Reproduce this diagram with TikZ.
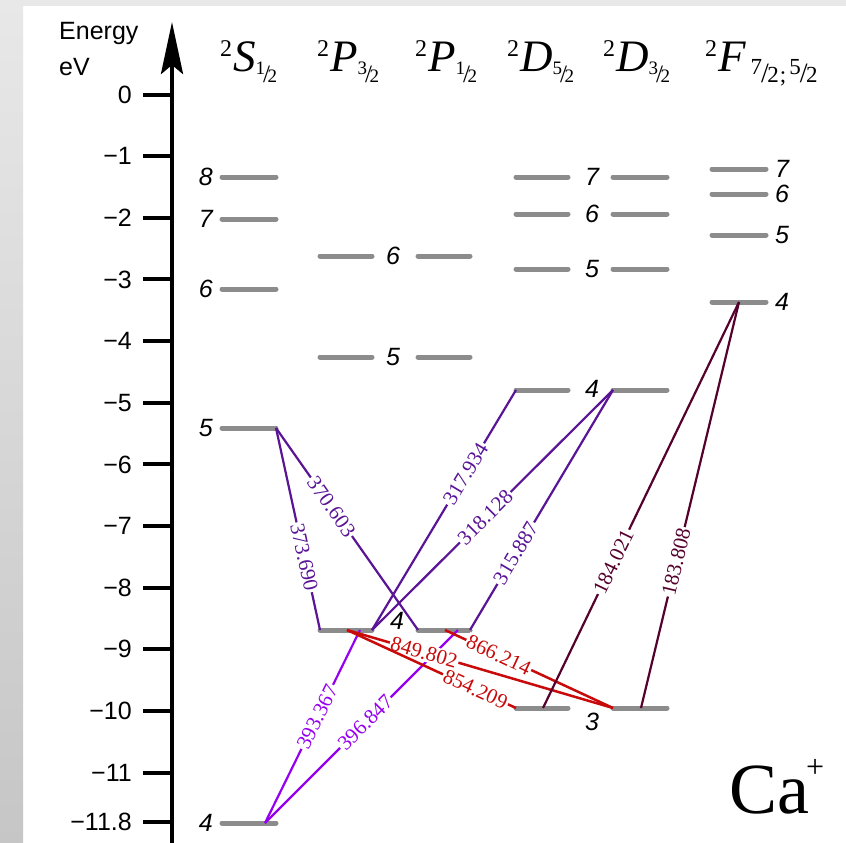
\documentclass[tikz,border=0pt]{standalone}
\usepackage{fontspec}
\setmainfont{Liberation Serif}
\setsansfont{Liberation Sans}
\usetikzlibrary{arrows.meta}
\definecolor{lvlgray}{RGB}{140,140,140}
\definecolor{vio}{RGB}{90,20,150}
\definecolor{bvio}{RGB}{150,0,240}
\definecolor{tred}{RGB}{200,10,10}
\definecolor{maroonc}{RGB}{85,0,45}
\definecolor{frtop}{RGB}{232,232,232}
\definecolor{frbot}{RGB}{198,198,198}
\newcommand{\hfr}[2]{\raisebox{8pt}{\fontsize{19}{19}\selectfont #1}\kern-2pt{\fontsize{25}{25}\selectfont /}\kern-2.5pt{\fontsize{19}{19}\selectfont #2}}
\newcommand{\hfrb}[2]{\raisebox{8pt}{\fontsize{23}{23}\selectfont #1}\kern-1pt{\fontsize{28}{28}\selectfont /}\kern-1.5pt{\fontsize{23}{23}\selectfont #2}}
\newcommand{\hdr}[2]{\raisebox{16pt}{\fontsize{24}{24}\selectfont 2}\kern1pt{\fontsize{45}{45}\selectfont\itshape #1}\raisebox{-10pt}{#2}}
\begin{document}
\begin{tikzpicture}[x=1pt,y=-1pt,
  lvl/.style={line width=5pt,draw=lvlgray,line cap=round},
  tickmark/.style={line width=4pt},
  ticklab/.style={anchor=east,font=\fontsize{25}{25}\selectfont\sffamily,inner sep=0pt},
  lvlnum/.style={font=\fontsize{25}{25}\selectfont\sffamily\itshape,inner sep=0pt},
  hd/.style={anchor=base west,inner sep=0pt},
  trans/.style={line width=2.2pt},
  wl/.style={sloped,fill=white,inner sep=1.5pt,font=\fontsize{21}{21}\selectfont},
]
\useasboundingbox (0,0) rectangle (846,843);
\fill[white] (0,0) rectangle (846,843);
\shade[top color=frtop,bottom color=frbot] (0,0) rectangle (23,843);
\fill[frtop] (0,0) rectangle (846,6);

% axis
\coordinate (axbot) at (172,843);
\coordinate (axtop) at (172,22);
\draw[line width=4pt,-{Stealth[length=52pt,width=22pt,inset=9pt]}] (axbot) -- (axtop);
\foreach \k/\t in {0/0,1/−1,2/−2,3/−3,4/−4,5/−5,6/−6,7/−7,8/−8,9/−9,10/−10,11/−11,11.8/−11.8}{
  \pgfmathsetmacro\yy{94.5+61.65*\k}
  \draw[tickmark] (143,\yy) -- (172,\yy);
  \node[ticklab] (tl\k) at (132,\yy) {\t};
}
\node[anchor=base west,inner sep=0pt,font=\fontsize{25}{25}\selectfont\sffamily] (en) at (59,40) {Energy};
\node[anchor=base west,inner sep=0pt,font=\fontsize{25}{25}\selectfont\sffamily] (ev) at (59,75) {eV};

% headers
\node[hd] (hS) at (220,72) {\hdr{S}{\hfr{1}{2}}};
\node[hd] (hP3) at (317,72) {\hdr{P}{\hfr{3}{2}}};
\node[hd] (hP1) at (415,72) {\hdr{P}{\hfr{1}{2}}};
\node[hd] (hD5) at (507,72) {\hdr{D}{\hfr{5}{2}}};
\node[hd] (hD3) at (603,72) {\hdr{D}{\hfr{3}{2}}};
\node[hd] (hF) at (705,72) {\hdr{F}{\kern5pt\hfrb{7}{2}\kern1pt{\fontsize{23}{23}\selectfont;}\kern3pt\hfrb{5}{2}}};

% S levels
\foreach \n/\y in {8/177,7/219,6/289,5/428,4/823}{
  \coordinate (S\n a) at (222,\y); \coordinate (S\n b) at (276,\y);
  \draw[lvl] (S\n a) -- (S\n b);
  \node[lvlnum,anchor=east] (Sl\n) at (213,\y) {\n};
}
% P levels
\foreach \n/\y in {6/256,5/357,4/630}{
  \coordinate (P3\n a) at (320,\y); \coordinate (P3\n b) at (372,\y);
  \coordinate (P1\n a) at (418,\y); \coordinate (P1\n b) at (470,\y);
  \draw[lvl] (P3\n a) -- (P3\n b);
  \draw[lvl] (P1\n a) -- (P1\n b);
}
\node[lvlnum] (Pl6) at (393,256) {6};
\node[lvlnum] (Pl5) at (393,357) {5};
% D levels
\foreach \n/\y in {7/177,6/214,5/269,4/390,3/708}{
  \coordinate (D5\n a) at (516,\y); \coordinate (D5\n b) at (568,\y);
  \coordinate (D3\n a) at (613,\y); \coordinate (D3\n b) at (667,\y);
  \draw[lvl] (D5\n a) -- (D5\n b);
  \draw[lvl] (D3\n a) -- (D3\n b);
}
\foreach \n/\y in {7/177,6/214,5/269,4/389}{
  \node[lvlnum] (Dl\n) at (592,\y) {\n};
}
% F levels
\foreach \n/\y in {7/169,6/194,5/235,4/302}{
  \coordinate (F\n a) at (712,\y); \coordinate (F\n b) at (766,\y);
  \draw[lvl] (F\n a) -- (F\n b);
  \node[lvlnum,anchor=west] (Fl\n) at (775,\y) {\n};
}

% transition end points
\coordinate (sB) at (265,823);
\coordinate (pC) at (360,630);
\coordinate (pD) at (458,630);
\coordinate (pR) at (347,630);
\coordinate (pE) at (445,630);
\coordinate (F4m) at (739,302);
\coordinate (dF) at (543,708);
\coordinate (dG) at (641,708);

% transitions
\draw[trans,vio] (S5b) -- node[wl,pos=.64] (l1) {373.690} (P34a);
\draw[trans,vio] (S5b) -- node[wl,pos=.39] (l2) {370.603} (P14a);
\draw[trans,vio] (P34b) -- node[wl,pos=.65] (l3) {317.934} (D54a);
\draw[trans,vio] (P34b) -- node[wl,pos=.47] (l4) {318.128} (D34a);
\draw[trans,vio] (P14b) -- node[wl,pos=.32] (l5) {315.887} (D34a);
\draw[trans,bvio] (sB) -- node[wl,pos=.55] (l6) {393.367} (pC);
\draw[trans,bvio] (sB) -- node[wl,pos=.52] (l7) {396.847} (pD);
\draw[trans,tred,line width=2.5pt] (pR) -- node[wl,pos=.29] (l8) {849.802} (D33a);
\draw[trans,tred,line width=2.5pt] (pR) -- node[wl,pos=.76] (l9) {854.209} (D53a);
\draw[trans,tred,line width=2.5pt] (pE) -- node[wl,pos=.32] (l10) {866.214} (D33a);
\draw[trans,maroonc] (dF) -- node[wl,pos=.36] (l11) {184.021} (F4m);
\draw[trans,maroonc] (dG) -- node[wl,pos=.36] (l12) {183.808} (F4m);

\node[lvlnum] (Pl4) at (397,621) {4};
\node[lvlnum] (Dl3) at (592,722) {3};

\node[anchor=base west,inner sep=0pt,font=\fontsize{72}{72}\selectfont] (ca) at (729,813) {Ca\kern-3pt\raisebox{36pt}{\fontsize{32}{32}\selectfont +}};
\end{tikzpicture}
\end{document}
